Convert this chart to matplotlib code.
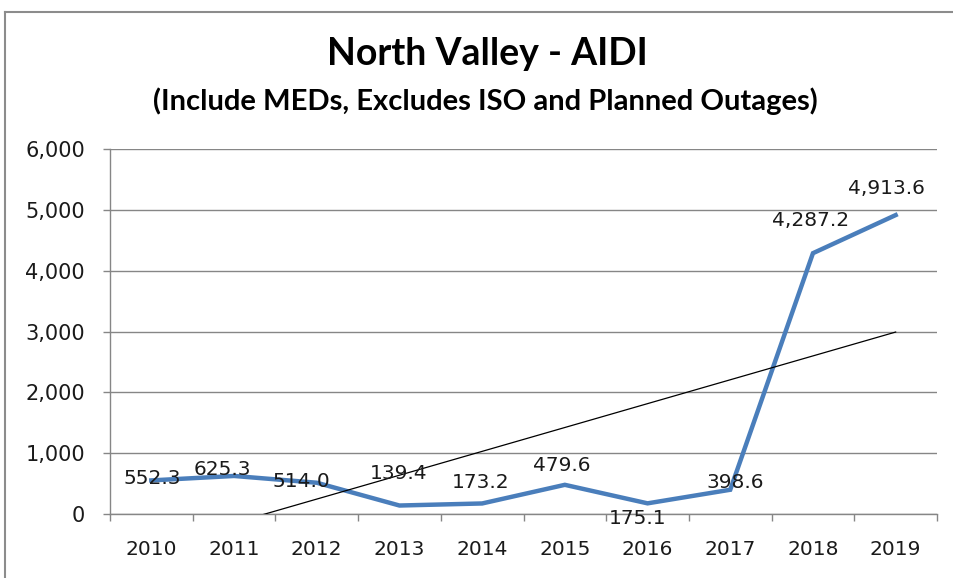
"""
North Valley AIDI line chart with linear trendline.
"""

import matplotlib
matplotlib.use("Agg")
import matplotlib.pyplot as plt
import matplotlib.ticker as ticker
from matplotlib.lines import Line2D
import numpy as np

years = ["2010", "2011", "2012", "2013", "2014", "2015", "2016", "2017", "2018", "2019"]
aidi = [552.3, 625.3, 514.0, 139.4, 173.2, 479.6, 175.1, 398.6, 4287.2, 4913.6]
labels = ["552.3", "625.3", "514.0", "139.4", "173.2", "479.6", "175.1", "398.6", "4,287.2", "4,913.6"]

# label offsets in pixels (dx, dy up)
label_offsets = [(1, 2), (-12, 6), (-15, 1), (-1, 32), (-2, 21),
                 (-3, 19), (-10, -15), (5, 7), (-2, 33), (-9, 27)]

LINE_BLUE = "#4a7ebb"
GRID = "#868686"

fig = plt.figure(figsize=(9.54, 5.78), dpi=100)
ax = fig.add_axes([110 / 954, 1 - 514 / 578, 827 / 954, 365 / 578])

x = np.arange(len(years))
ax.plot(x, aidi, color=LINE_BLUE, lw=3.2, solid_joinstyle="miter", zorder=3)

# linear trendline like Excel's
slope, icpt = np.polyfit(x, aidi, 1)
ax.plot(x, slope * x + icpt, color="black", lw=0.9, zorder=4)

px = 0.72  # points per pixel at dpi 100
for xi, yi, lbl, (dx, dy) in zip(x, aidi, labels, label_offsets):
    ax.annotate(lbl, (xi, yi), xytext=(dx * px, dy * px), textcoords="offset points",
                ha="center", va="center", fontsize=14.5, color="#1a1a1a", zorder=5)

ax.set_xlim(-0.5, len(years) - 0.5)
ax.set_ylim(0, 6000)
ax.yaxis.set_major_locator(ticker.MultipleLocator(1000))
ax.yaxis.set_major_formatter(ticker.StrMethodFormatter("{x:,.0f}"))
ax.set_xticks(x)
ax.set_xticklabels(years)
ax.set_xticks(np.arange(-0.5, len(years)), minor=True)
ax.tick_params(axis="x", which="major", length=0, pad=19, labelsize=14.5, colors="#1a1a1a")
ax.tick_params(axis="x", which="minor", length=5, width=1, color=GRID, direction="out")
ax.tick_params(axis="y", length=5, width=1, color=GRID, pad=13, labelsize=15, labelcolor="#1a1a1a")
ax.grid(axis="y", color=GRID, lw=1)
ax.set_axisbelow(True)
for side in ("top", "right"):
    ax.spines[side].set_visible(False)
for side in ("left", "bottom"):
    ax.spines[side].set_color(GRID)
    ax.spines[side].set_linewidth(1)

fig.text(487 / 954, 1 - 65 / 578, "North Valley - AIDI", ha="center", va="baseline",
         fontsize=27, fontweight="bold", family="Lato")
fig.text(485 / 954, 1 - 110 / 578, "(Include MEDs, Excludes ISO and Planned Outages)",
         ha="center", va="baseline", fontsize=21, fontweight="bold", family="Lato")

# chart frame (top and left edges visible in the crop)
fig.add_artist(Line2D([5 / 954, 1], [1 - 12 / 578] * 2, transform=fig.transFigure,
                      color="#8c8c8c", lw=1.5))
fig.add_artist(Line2D([5 / 954] * 2, [0, 1 - 12 / 578], transform=fig.transFigure,
                      color="#8c8c8c", lw=1.5))

fig.savefig("out.png", dpi=100, facecolor="white")
